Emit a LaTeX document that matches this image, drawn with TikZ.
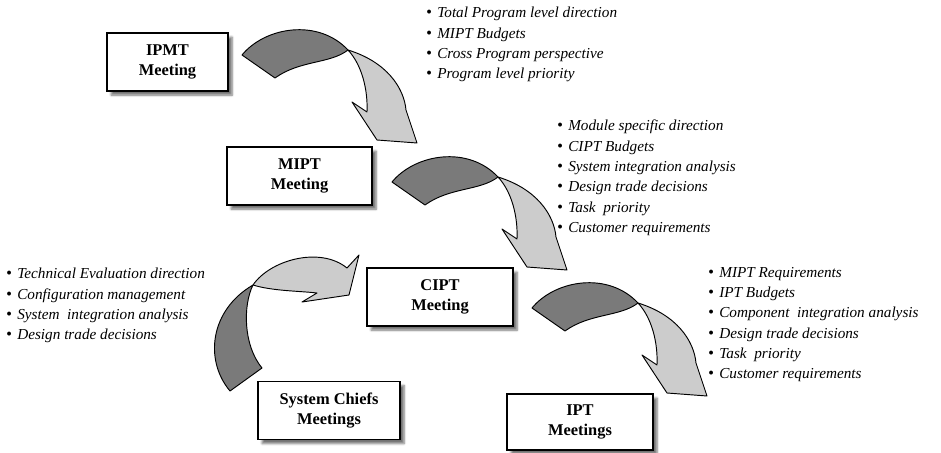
\documentclass[tikz,border=0pt]{standalone}
\usepackage{fontspec}
\setmainfont{Liberation Serif}
\usetikzlibrary{shadows.blur}
\newcommand\bul{{\fontsize{14}{14}\selectfont\textbullet}\hspace{.35em}}

\begin{document}
\begin{tikzpicture}[x=0.03cm,y=-0.03cm,
  meet/.style={draw,line width=1.1pt,fill=white,align=center,minimum height=1.74cm,
    font=\fontsize{14}{17}\selectfont\bfseries,
    blur shadow={shadow xshift=3.5pt,shadow yshift=-3.5pt,shadow blur steps=6,shadow opacity=55}},
  notes/.style={anchor=north west,inner sep=0pt,align=left,font=\fontsize{13}{17.3}\selectfont\itshape},
  back/.style={fill=black!52,draw,line width=0.8pt,line join=round},
  front/.style={fill=black!20,draw,line width=0.8pt,line join=round}]
\useasboundingbox (0,0) rectangle (941,453);
%
\node[meet,minimum width=3.63cm] (ipmt) at (167.5,62) {IPMT\\Meeting};
\node[meet,minimum width=4.35cm] (mipt) at (299.5,176) {MIPT\\Meeting};
\node[meet,minimum width=4.38cm] (cipt) at (440,297) {CIPT\\Meeting};
\node[meet,minimum width=4.26cm] (chiefs) at (329,410.5) {System Chiefs\\Meetings};
\node[meet,minimum width=4.38cm,minimum height=1.68cm] (ipt) at (580,422) {IPT\\Meetings};
%
% curled arrows down the chain
\foreach \dx/\dy in {0/0,150/127,290/253}{
\begin{scope}[shift={(\dx,\dy)}]
\draw[back](242,55) .. controls (265,27) and (318,18) .. (348,50)
  .. controls (330,64) and (300,60) .. (275,78)--cycle;
\draw[front](348,50) .. controls (387,62) and (404,88) .. (406,110)--(417,143)--(377,140)
  --(352,102)--(367,112) .. controls (368,90) and (362,65) .. (348,50)--cycle;
\end{scope}}
%
% chiefs back up to cipt
\draw[back](230,391) .. controls (204,360) and (210,310) .. (253,285)
  .. controls (243,305) and (243,345) .. (262,368)--cycle;
\draw[front](253,285) .. controls (270,260) and (320,246) .. (347,268)--(359,255)--(349,295)
  --(302,302)--(317,293) .. controls (300,291) and (272,291) .. (253,285)--cycle;
%
\node[notes] (ipmtnotes) at (426,7) {\bul Total Program level direction\\
  \bul MIPT Budgets\\ \bul Cross Program perspective\\ \bul Program level priority};
\node[notes] (miptnotes) at (557,120) {\bul Module specific direction\\
  \bul CIPT Budgets\\ \bul System integration analysis\\ \bul Design trade decisions\\
  \bul Task\ \ priority\\ \bul Customer requirements};
\node[notes] (chiefnotes) at (6,268) {\bul Technical Evaluation direction\\
  \bul Configuration management\\ \bul System\ \ integration analysis\\ \bul Design trade decisions};
\node[notes] (ciptnotes) at (708,267) {\bul MIPT Requirements\\
  \bul IPT Budgets\\ \bul Component\ \ integration analysis\\ \bul Design trade decisions\\
  \bul Task\ \ priority\\ \bul Customer requirements};
\end{tikzpicture}
\end{document}
